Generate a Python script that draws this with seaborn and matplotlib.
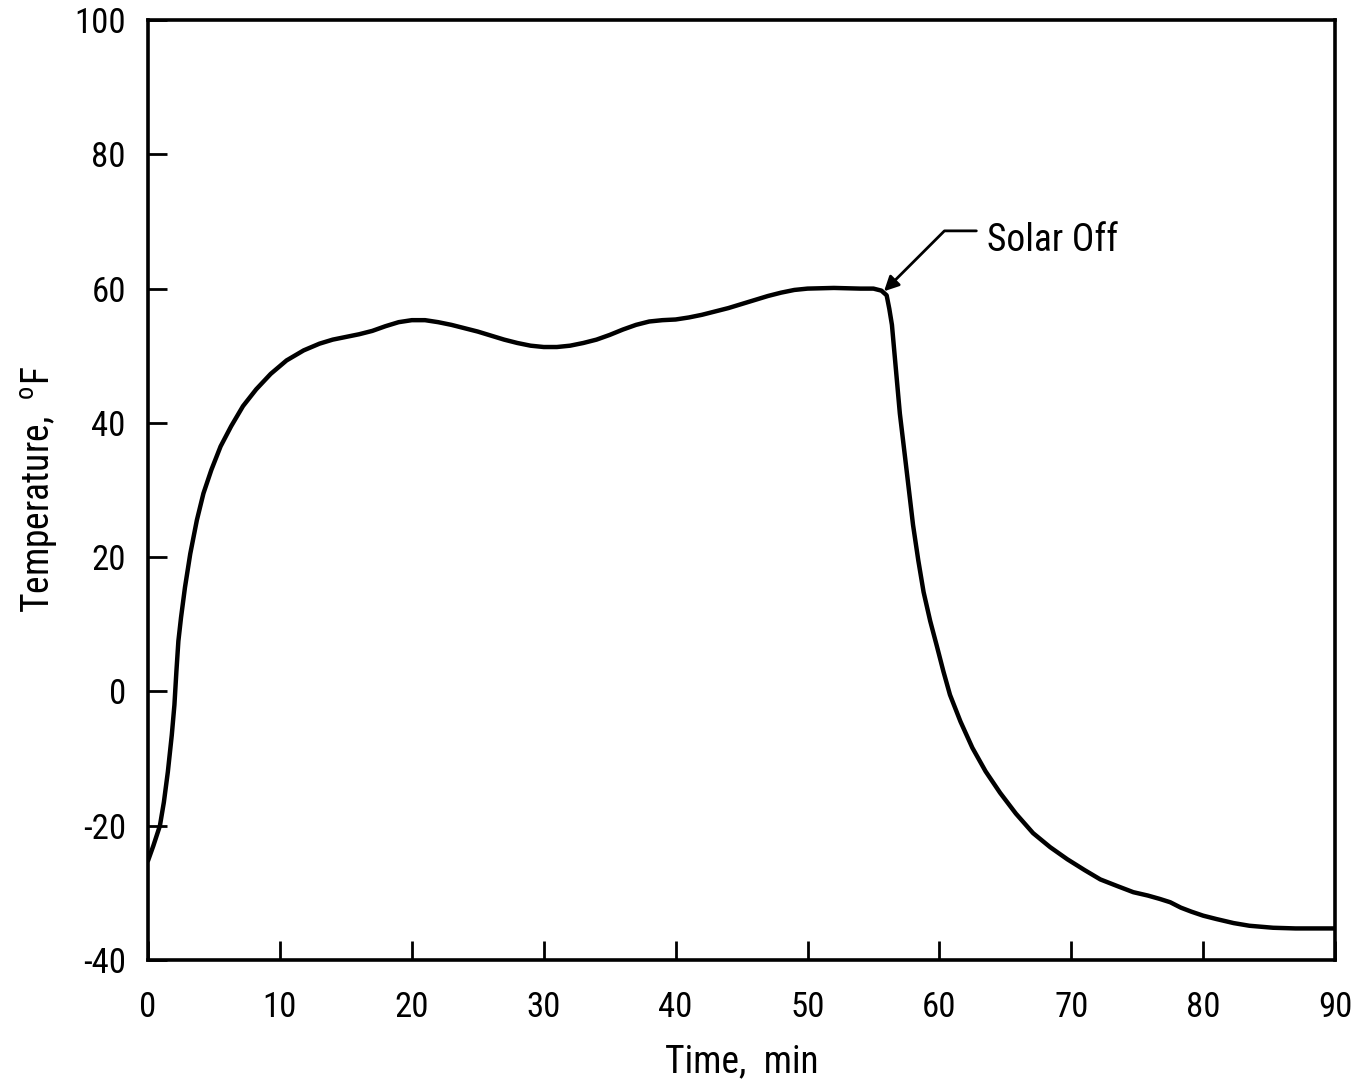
import matplotlib
matplotlib.use("Agg")
import matplotlib.pyplot as plt
from matplotlib import font_manager
import seaborn as sns
import pandas as pd

time_min = [0, 0.4, 0.9, 1.2, 1.5, 1.8, 2.0, 2.15, 2.3, 2.5, 2.8, 3.2, 3.7, 4.2, 4.8, 5.5,
            6.3, 7.2, 8.2, 9.3, 10.5, 11.8, 13, 14, 15, 16, 17, 18, 19, 20, 21, 22, 23,
            24, 25, 26, 27, 28, 29, 30, 31, 32, 33, 34, 35, 36, 37, 38, 39, 40, 41, 42,
            43, 44, 45, 46, 47, 48, 49, 50, 52, 54, 55, 55.6, 56.0, 56.2, 56.4, 56.7,
            57.0, 57.4, 58.0, 58.4, 58.8, 59.3, 59.8, 60.3, 60.8, 61.6, 62.5, 63.5,
            64.6, 65.8, 67.1, 68.4, 69.7, 71.0, 72.2, 73.5, 74.7, 75.8, 76.7, 77.5,
            78.3, 79.1, 80.0, 81.0, 82.3, 83.5, 85.3, 87.0, 90.0]
temp_F = [-25.2, -23.0, -20.0, -16.5, -12.0, -6.5, -2.0, 3.0, 7.5, 11.0, 15.5, 20.5, 25.5,
          29.5, 33.0, 36.5, 39.5, 42.5, 45.0, 47.3, 49.3, 50.8, 51.8, 52.4, 52.8, 53.2,
          53.7, 54.4, 55.0, 55.3, 55.3, 55.0, 54.6, 54.1, 53.6, 53.0, 52.4, 51.9, 51.5,
          51.3, 51.3, 51.5, 51.9, 52.4, 53.1, 53.9, 54.6, 55.1, 55.3, 55.4, 55.7, 56.1,
          56.6, 57.1, 57.7, 58.3, 58.9, 59.4, 59.8, 60.0, 60.1, 60.0, 60.0, 59.7, 59.0,
          57.0, 54.6, 48.0, 41.4, 34.8, 24.8, 19.5, 14.8, 10.5, 6.8, 3.0, -0.5, -4.5,
          -8.4, -11.9, -15.1, -18.2, -21.1, -23.2, -25.0, -26.6, -28.0, -29.0, -29.9,
          -30.4, -30.9, -31.4, -32.2, -32.8, -33.4, -33.9, -34.5, -34.9, -35.2, -35.3,
          -35.3]
x_ticks = [0, 10, 20, 30, 40, 50, 60, 70, 80, 90]
y_ticks = [-40, -20, 0, 20, 40, 60, 80, 100]
annot_text = "Solar Off"
annot_point = (55.8, 59.6)
annot_text_pos = (62.8, 68.6)

df = pd.DataFrame({"Time": time_min, "Temp": temp_F})

sns.set_style("white")
available = {f.name for f in font_manager.fontManager.ttflist}
fams = [f for f in ['Roboto Condensed', 'DejaVu Sans Condensed', 'Liberation Sans Narrow',
                    'Open Sans Condensed', 'Noto Sans Condensed'] if f in available]
plt.rcParams['font.family'] = fams + ['DejaVu Sans']
plt.rcParams['font.stretch'] = 'condensed'
condensed = len(fams) > 0

fs_tick = 25 if condensed else 21
fs_lab = 27 if condensed else 23

fig = plt.figure(figsize=(13.52, 10.84), dpi=100)
ax = fig.add_axes([0.1095, 0.1144, 0.878, 0.8671])

sns.lineplot(data=df, x="Time", y="Temp", color="black", linewidth=3.2,
             estimator=None, sort=False, ax=ax)

ax.set_xlim(0, 90)
ax.set_ylim(-40, 100)
ax.set_xticks(x_ticks)
ax.set_yticks(y_ticks)
ax.set_xticklabels([str(v) for v in x_ticks], fontsize=fs_tick)
ax.set_yticklabels([str(v) for v in y_ticks], fontsize=fs_tick)
ax.tick_params(axis='both', direction='in', length=14, width=2, color='black',
               bottom=True, left=True, top=False, right=False, pad=16,
               labelcolor='black')
ax.tick_params(axis='x', pad=22)

for s in ax.spines.values():
    s.set_linewidth(2.6)
    s.set_color('black')

ax.set_xlabel("Time,  min", fontsize=fs_lab, labelpad=14, color='black')
ax.set_ylabel(r"Temperature,  $\mathregular{^{o}}$F", fontsize=fs_lab, labelpad=10,
              color='black')

ax.annotate("", xy=annot_point, xytext=annot_text_pos,
            arrowprops=dict(arrowstyle='-|>', color='black', lw=2,
                            mutation_scale=22,
                            connectionstyle='angle,angleA=0,angleB=45,rad=0',
                            shrinkA=0, shrinkB=0))
ax.text(annot_text_pos[0] + 0.8, annot_text_pos[1] - 1.4, annot_text, fontsize=fs_lab,
        va='center', ha='left', color='black')

fig.savefig("out.png", dpi=100, facecolor='white')
